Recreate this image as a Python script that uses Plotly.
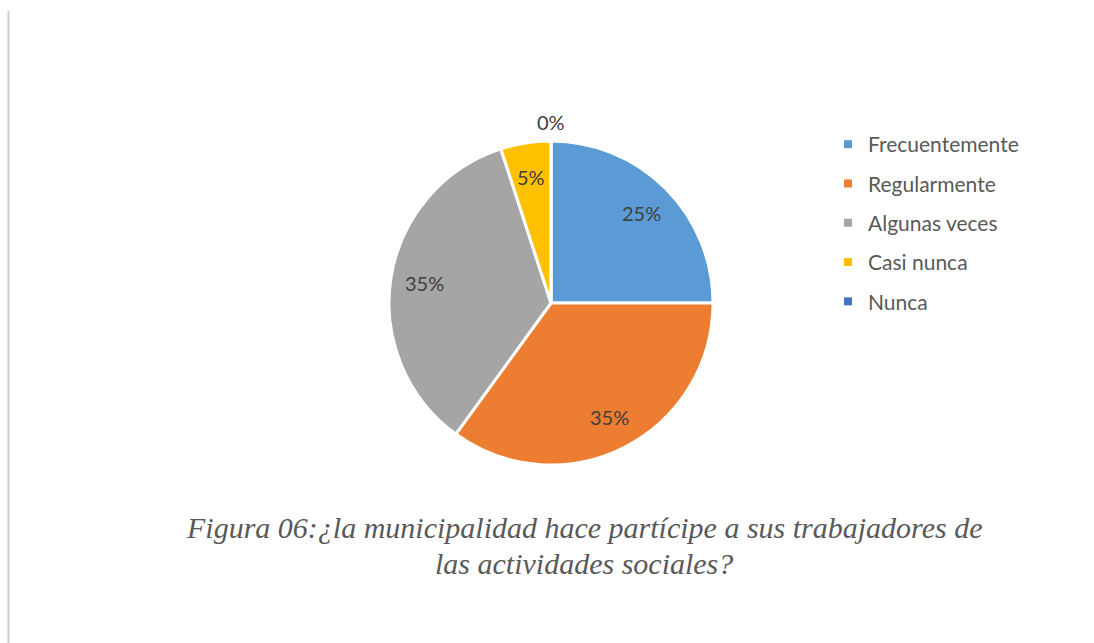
import math
import plotly.graph_objects as go

categories = ["Frecuentemente", "Regularmente", "Algunas veces", "Casi nunca", "Nunca"]
values = [25, 35, 35, 5, 0]
colors = ["#5B9BD5", "#ED7D31", "#A5A5A5", "#FFC000", "#4472C4"]
caption_lines = ["Figura 06:¿la municipalidad hace partícipe a sus trabajadores de",
                 "las actividades sociales?"]

W, H = 1094, 643
cx, cy, r = 551, 303, 162
label_font = dict(family="Lato, Open Sans, sans-serif", size=20, color="#404040")

fig = go.Figure()
fig.add_trace(go.Pie(
    labels=categories, values=values, sort=False, direction="clockwise", rotation=0,
    marker=dict(colors=colors, line=dict(color="white", width=3)),
    textinfo="none", showlegend=False, hoverinfo="label+percent",
    domain=dict(x=[(cx - r) / W, (cx + r) / W], y=[1 - (cy + r) / H, 1 - (cy - r) / H]),
))

# data labels placed at the slice mid-angles
total = sum(values)
cum = 0
for v in values:
    mid = (cum + v / 2) / total * 2 * math.pi
    cum += v
    k = 0.79 if v > 0 else 1.12
    px = cx + math.sin(mid) * r * k
    py = cy - math.cos(mid) * r * k
    fig.add_annotation(text=f"{round(v / total * 100)}%", x=px / W, y=1 - py / H,
                       xref="paper", yref="paper", showarrow=False,
                       xanchor="center", yanchor="middle", font=label_font)

for i, (c, col) in enumerate(zip(categories, colors)):
    fig.add_trace(go.Scatter(
        x=[None], y=[None], mode="markers", name=c, legendgroup=f"g{i}",
        marker=dict(symbol="square", size=8, color=col), showlegend=True,
        hoverinfo="skip",
    ))

for txt, yy in zip(caption_lines, [527, 563]):
    fig.add_annotation(
        text=txt, x=584 / W, y=1 - yy / H, xref="paper", yref="paper",
        showarrow=False, xanchor="center", yanchor="middle",
        font=dict(family="Liberation Serif, Times New Roman, serif", size=30,
                  color="#595959", style="italic"),
    )

fig.add_shape(type="line", xref="paper", yref="paper", x0=8.5 / W, x1=8.5 / W,
              y0=0, y1=1 - 11 / H, line=dict(color="#D0D0D0", width=2))

fig.update_layout(
    width=W, height=H, margin=dict(l=0, r=0, t=0, b=0),
    paper_bgcolor="white", plot_bgcolor="white",
    xaxis=dict(visible=False), yaxis=dict(visible=False),
    legend=dict(x=828 / W, y=1 - 124 / H, xanchor="left", yanchor="top",
                font=dict(family="Lato, Open Sans, sans-serif", size=21, color="#595959"),
                tracegroupgap=9, itemwidth=30, bgcolor="rgba(0,0,0,0)"),
)
fig.write_html("out.html", config={"displayModeBar": False},
               post_script="document.body.style.margin='0';")
